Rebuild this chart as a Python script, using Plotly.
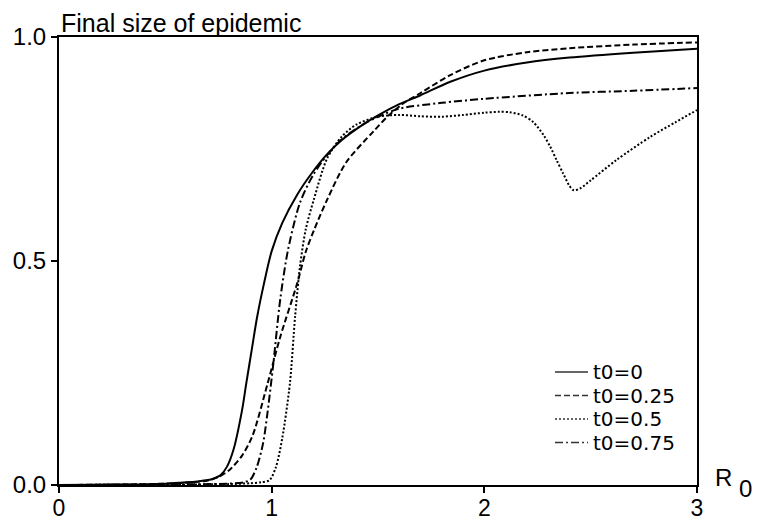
import plotly.graph_objects as go

# t0 = 0 (solid)
r_t0_0 = [0, 0.3, 0.5, 0.6, 0.65, 0.7, 0.725, 0.76, 0.79, 0.82, 0.86, 0.88, 0.906, 0.932, 0.964, 1.0, 1.05, 1.12, 1.19, 1.26, 1.33, 1.415, 1.5, 1.6, 1.7, 1.84, 2.0, 2.2, 2.4, 2.7, 3.0]
f_t0_0 = [0, 0.001, 0.003, 0.006, 0.008, 0.011, 0.014, 0.022, 0.041, 0.078, 0.165, 0.225, 0.301, 0.376, 0.45, 0.522, 0.585, 0.648, 0.697, 0.738, 0.77, 0.80, 0.825, 0.85, 0.87, 0.90, 0.925, 0.943, 0.954, 0.965, 0.974]

# t0 = 0.25 (dashed)
r_t0_025 = [0, 0.3, 0.5, 0.6, 0.7, 0.75, 0.8, 0.86, 0.91, 0.98, 1.04, 1.12, 1.16, 1.2, 1.26, 1.35, 1.48, 1.55, 1.62, 1.7, 1.84, 2.0, 2.2, 2.4, 2.7, 3.0]
f_t0_025 = [0, 0.001, 0.003, 0.005, 0.01, 0.018, 0.033, 0.065, 0.11, 0.225, 0.33, 0.45, 0.52, 0.57, 0.636, 0.72, 0.79, 0.825, 0.852, 0.875, 0.915, 0.948, 0.966, 0.975, 0.983, 0.988]

# t0 = 0.5 (dotted)
r_t0_05 = [0, 0.5, 0.8, 0.9, 0.95, 0.99, 1.02, 1.05, 1.086, 1.11, 1.133, 1.16, 1.2, 1.26, 1.33, 1.4, 1.5, 1.6, 1.7, 1.8, 1.9, 2.0, 2.07, 2.12, 2.18, 2.23, 2.28, 2.31, 2.34, 2.37, 2.4, 2.42, 2.45, 2.5, 2.62, 2.78, 2.9, 3.0]
f_t0_05 = [0, 0.001, 0.002, 0.004, 0.006, 0.011, 0.04, 0.105, 0.228, 0.375, 0.487, 0.57, 0.64, 0.728, 0.778, 0.805, 0.822, 0.826, 0.823, 0.822, 0.826, 0.831, 0.833, 0.832, 0.825, 0.81, 0.78, 0.755, 0.725, 0.696, 0.668, 0.658, 0.662, 0.68, 0.725, 0.777, 0.81, 0.837]

# t0 = 0.75 (dash-dot)
r_t0_075 = [0, 0.5, 0.8, 0.87, 0.9, 0.93, 0.96, 0.98, 1.006, 1.04, 1.077, 1.133, 1.195, 1.26, 1.33, 1.42, 1.5, 1.6, 1.8, 2.0, 2.4, 2.7, 3.0]
f_t0_075 = [0, 0.001, 0.003, 0.006, 0.012, 0.04, 0.094, 0.16, 0.263, 0.413, 0.525, 0.63, 0.692, 0.736, 0.772, 0.802, 0.822, 0.84, 0.853, 0.862, 0.875, 0.88, 0.886]

names = ["t0=0", "t0=0.25", "t0=0.5", "t0=0.75"]
dashes = ["solid", "6px,3px", "2px,2px", "8px,3px,2px,3px"]
xs_all = [r_t0_0, r_t0_025, r_t0_05, r_t0_075]
ys_all = [f_t0_0, f_t0_025, f_t0_05, f_t0_075]

x_ticks = [0, 1, 2, 3]
y_ticks = [0.0, 0.5, 1.0]

FONT = "Liberation Sans, Arial, sans-serif"
LEG_FONT = "DejaVu Sans, Liberation Sans, sans-serif"
W, H = 758, 523
L, R_, T, B = 59, 61, 37, 38
PW, PH = W - L - R_, H - T - B

def px_x(px):
    return (px - L) / PW

def px_y(py):
    return (H - B - py) / PH

fig = go.Figure()
for name, xs, ys, dash in zip(names, xs_all, ys_all, dashes):
    fig.add_trace(go.Scatter(
        x=xs, y=ys, mode="lines", name=name, showlegend=False,
        line=dict(color="black", width=2, dash=dash, shape="spline", smoothing=0.8),
    ))

axis_common = dict(
    showline=True, linecolor="black", linewidth=2, mirror=True,
    ticks="outside", ticklen=6, tickcolor="black", tickwidth=2,
    showgrid=False, zeroline=False, automargin=False,
)

annotations = [
    dict(text="Final size of epidemic", xref="paper", yref="paper", x=0, y=1,
         xanchor="left", yanchor="bottom", xshift=0, yshift=-2, showarrow=False,
         font=dict(family=FONT, size=25, color="black")),
    dict(text="R", xref="paper", yref="paper", x=1, y=0, xanchor="center", yanchor="middle",
         xshift=26, yshift=8, showarrow=False, font=dict(family=FONT, size=24, color="black")),
    dict(text="0", xref="paper", yref="paper", x=1, y=0, xanchor="center", yanchor="middle",
         xshift=48, yshift=-3, showarrow=False, font=dict(family=FONT, size=24, color="black")),
]
shapes = []

# manual legend
row_y = [372, 395.5, 419, 442.5]
for name, dash, py in zip(names, dashes, row_y):
    shapes.append(dict(type="line", xref="paper", yref="paper",
                       x0=px_x(555), x1=px_x(588), y0=px_y(py), y1=px_y(py),
                       line=dict(color="#333333", width=1.3, dash=dash)))
    annotations.append(dict(text=name, xref="paper", yref="paper", x=px_x(591), y=px_y(py),
                            xanchor="left", yanchor="middle", showarrow=False,
                            font=dict(family=LEG_FONT, size=20, color="black")))

fig.update_layout(
    width=W, height=H,
    margin=dict(l=L, r=R_, t=T, b=B, autoexpand=False),
    paper_bgcolor="white", plot_bgcolor="white",
    font=dict(family=FONT, size=24, color="black"),
    xaxis=dict(range=[0, 3], tickvals=x_ticks, ticktext=[str(v) for v in x_ticks],
               tickfont=dict(family=FONT, size=23, color="black"), ticklabelstandoff=-5,
               **axis_common),
    yaxis=dict(range=[0, 1], tickvals=y_ticks, ticktext=["%.1f" % v for v in y_ticks],
               tickfont=dict(family=FONT, size=24, color="black"), **axis_common),
    showlegend=False,
    annotations=annotations,
    shapes=shapes,
)

fig.write_html("out.html")
